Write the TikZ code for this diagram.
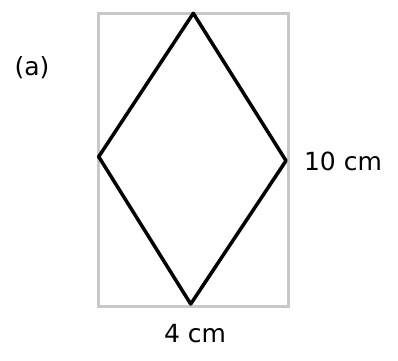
\documentclass[tikz,border=0pt]{standalone}
\usepackage{fontspec}
\setmainfont{DejaVu Sans}
\usetikzlibrary{positioning}
\definecolor{frame}{HTML}{C8C8C8}

\begin{document}
\begin{tikzpicture}[x=1pt,y=-1pt,
    frameline/.style={draw=frame,line width=3.5pt},
    edge/.style={draw=black,line width=3.5pt,line join=round},
    lbl/.style={font=\fontsize{25}{28}\selectfont,inner sep=0pt}]
    \useasboundingbox (0,0) rectangle (398,360);
    \draw[frameline] (98.7,13.3) rectangle (288.7,306.7);
    \coordinate (top) at (193.3,13.3);
    \coordinate (left) at (98.7,156.7);
    \coordinate (right) at (286,160.7);
    \coordinate (bottom) at (190.7,304);
    \draw[edge] (top)--(right)--(bottom)--(left)--cycle;
    \node[lbl] (part) at (32,68) {(a)};
    \node[lbl] (height) at (343,161) {10 cm};
    \node[lbl] (width) at (195,334) {4 cm};
\end{tikzpicture}
\end{document}
